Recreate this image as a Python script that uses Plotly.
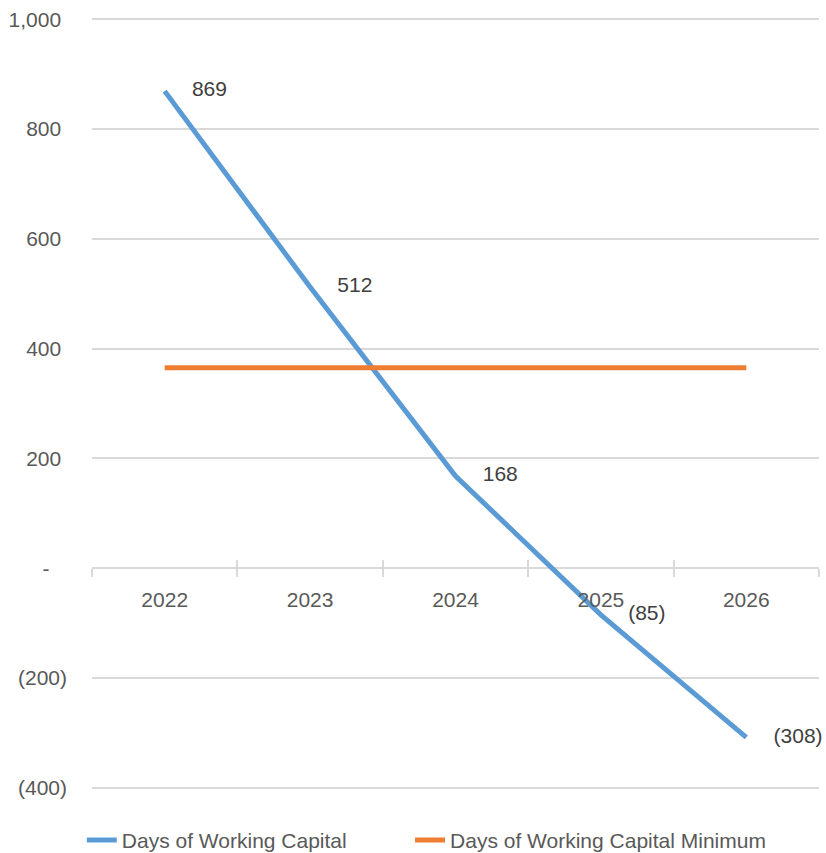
import plotly.graph_objects as go

years = ["2022", "2023", "2024", "2025", "2026"]
days_wc = [869, 512, 168, -85, -308]
days_wc_min = [365, 365, 365, 365, 365]
y_tickvals = [-400, -200, 0, 200, 400, 600, 800, 1000]
y_ticktext = ["(400)", "(200)", "-\u00a0\u00a0\u00a0", "200\u00a0", "400\u00a0", "600\u00a0", "800\u00a0", "1,000\u00a0"]
series_names = ["Days of Working Capital", "Days of Working Capital Minimum"]

FONT = "Liberation Sans, Arial, sans-serif"
FS = 21
TXT = "#595959"
GRID = "#D9D9D9"


def fmt(v):
    return f"({abs(v):,})" if v < 0 else f"{v:,}"


fig = go.Figure()
fig.add_trace(go.Scatter(x=years, y=days_wc, mode="lines", name=series_names[0] + "\u00a0" * 10,
                         line=dict(color="#5B9BD5", width=5), hoverinfo="skip"))
fig.add_trace(go.Scatter(x=years, y=days_wc_min, mode="lines", name=series_names[1],
                         line=dict(color="#ED7D31", width=5), hoverinfo="skip"))
# data labels
fig.add_trace(go.Scatter(x=years, y=days_wc, mode="markers+text", showlegend=False,
                         text=[fmt(v) for v in days_wc], textposition="middle right",
                         marker=dict(size=42, color="rgba(0,0,0,0)"),
                         textfont=dict(family=FONT, size=FS, color="#404040"),
                         cliponaxis=False, hoverinfo="skip"))
# invisible helper trace for the overlaid tick axis
fig.add_trace(go.Scatter(x=years, y=days_wc_min, xaxis="x2", mode="lines", showlegend=False,
                         line=dict(width=0), opacity=0, hoverinfo="skip"))

ymin, ymax = -404, 1004
zero_pos = (0 - ymin) / (ymax - ymin)

fig.update_layout(
    width=826, height=853,
    margin=dict(l=92, r=7, t=17, b=63, autoexpand=False),
    paper_bgcolor="white", plot_bgcolor="white",
    font=dict(family=FONT, size=FS, color=TXT),
    showlegend=True,
    legend=dict(orientation="h", x=-0.014, xanchor="left",
                y=-0.065, yanchor="middle",
                font=dict(family=FONT, size=FS, color=TXT), itemwidth=30,
                bgcolor="rgba(0,0,0,0)"),
    xaxis=dict(type="category", categoryorder="array", categoryarray=years,
               range=[-0.5, 4.5], anchor="free", position=zero_pos,
               showgrid=False, zeroline=False, showline=False,
               ticks="outside", tickson="boundaries", ticklen=8, tickwidth=2, tickcolor=GRID,
               tickfont=dict(family=FONT, size=FS, color=TXT), ticklabelstandoff=17),
    xaxis2=dict(type="category", categoryorder="array", categoryarray=years,
                range=[-0.5, 4.5], overlaying="x", anchor="free", position=zero_pos,
                showgrid=False, zeroline=False, showline=False,
                ticks="inside", tickson="boundaries", ticklen=8, tickwidth=2, tickcolor=GRID,
                showticklabels=False),
    yaxis=dict(range=[ymin, ymax], tickvals=y_tickvals, ticktext=y_ticktext,
               showgrid=True, gridcolor=GRID, gridwidth=2,
               zeroline=True, zerolinecolor=GRID, zerolinewidth=2,
               showline=False, ticks="", ticklabelstandoff=24,
               tickfont=dict(family=FONT, size=FS, color=TXT)),
)

fig.write_html("out.html")
